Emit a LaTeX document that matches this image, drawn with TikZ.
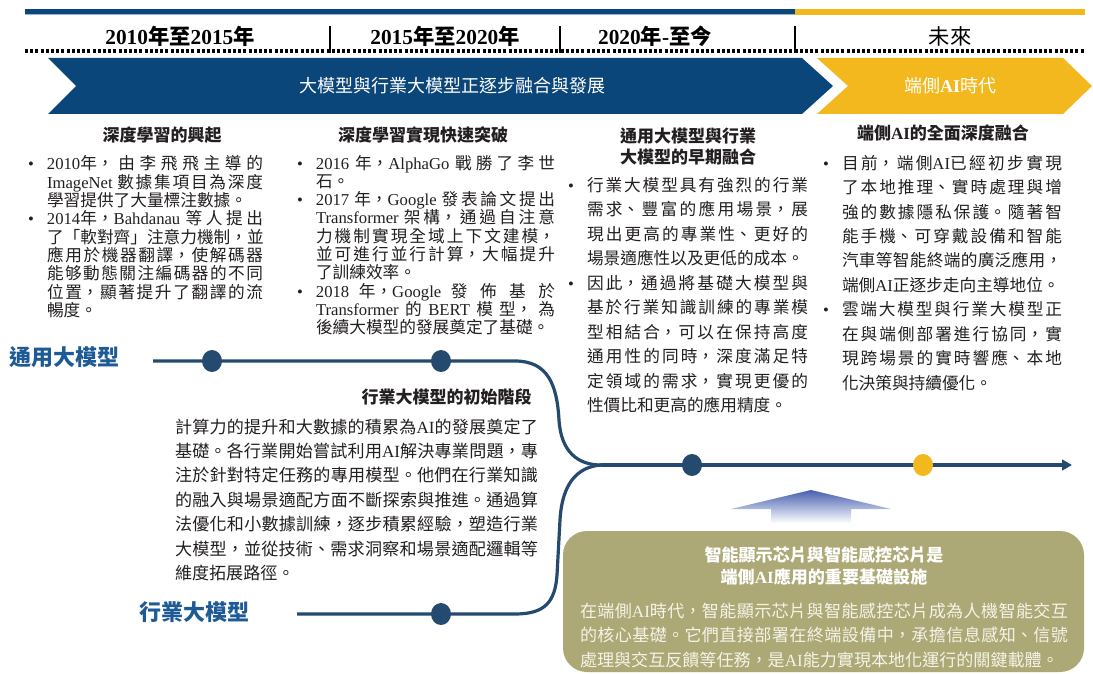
\documentclass[tikz,border=0pt]{standalone}
\usepackage{fontspec}
\setmainfont{Noto Sans CJK TC}
\newfontfamily\en{Liberation Serif}
\usetikzlibrary{shapes.geometric,arrows.meta}
\XeTeXlinebreaklocale "zh"
\XeTeXlinebreakskip=0pt plus 3pt
\XeTeXlinebreakpenalty=10000
\definecolor{navy}{RGB}{10,70,122}
\definecolor{ltblue}{RGB}{150,180,212}
\definecolor{gold}{RGB}{242,184,30}
\definecolor{lnavy}{RGB}{36,74,112}
\definecolor{lblue}{RGB}{30,90,150}
\definecolor{olive}{RGB}{173,169,118}
\definecolor{txt}{RGB}{35,31,32}
\definecolor{arrowblue}{RGB}{70,95,175}
\definecolor{boxtxt}{RGB}{244,243,232}
\newcommand\enw[1]{{\en #1}}
\newcommand\bfirst{\hangindent=14.25pt\hangafter=1\makebox[14.25pt][l]{\en\textbullet}}
\newcommand\bitem{\par\noindent\bfirst}
\tikzset{
  yearlbl/.style={inner sep=0pt, text=black, font=\fontsize{16}{19}\selectfont\bfseries},
  bannertxt/.style={inner sep=0pt, text=white, font=\fontsize{13.5}{16}\selectfont},
  colhead/.style={inner sep=0pt, text=txt, align=center, font=\fontsize{12.75}{15.75}\selectfont\bfseries},
  colbody/.style={inner sep=0pt, outer sep=0pt, anchor=base west, align=justify, text=txt, font=\fontsize{12.5}{13.725}\selectfont},
  widebody/.style={colbody, font=\fontsize{12.5}{18.375}\selectfont},
  navyline/.style={draw=lnavy, line width=2.4pt},
  dotnode/.style={ellipse, fill=lnavy, minimum width=15pt, minimum height=16.5pt, inner sep=0pt},
  sidelbl/.style={inner sep=0pt, text=lblue, font=\fontsize{16.5}{20}\selectfont\bfseries},
}
\begin{document}
\begin{tikzpicture}[x=0.75pt,y=-0.75pt]
\useasboundingbox (0,0) rectangle (1093,674);
\fill[white] (0,0) rectangle (1093,674);
% top bar
\fill[navy] (25,9) rectangle (795,14);
\fill[ltblue] (25,14) rectangle (795,15.5);
\fill[gold] (795,9) rectangle (1085,15);
% dotted rule and separators
\draw[line width=2.3pt, dash pattern=on 2.3pt off 1.6pt] (25,51) -- (1085,51);
\foreach \sx in {330,560,795} \draw[line width=1.8pt] (\sx,26) -- (\sx,53);
% year labels
\node[yearlbl] (y1) at (180,36) {\enw{2010}年至\enw{2015}年};
\node[yearlbl] (y2) at (445,36) {\enw{2015}年至\enw{2020}年};
\node[yearlbl] (y3) at (655,36) {\enw{2020}年\enw{-}至今};
\node[yearlbl, font=\fontsize{16}{19}\selectfont] (y4) at (950,36) {未來};
% banner
\fill[navy] (48,58) -- (802,58) -- (833,86) -- (802,114) -- (48,114) -- (76,86) -- cycle;
\fill[gold] (817,58) -- (1063,58) -- (1092,86) -- (1063,114) -- (817,114) -- (848,86) -- cycle;
\node[bannertxt] (b1) at (452,86) {大模型與行業大模型正逐步融合與發展};
\node[bannertxt] (b2) at (950,86) {端側\enw{\bfseries AI}時代};
% column headings
\node[colhead] (h1) at (162,135) {深度學習的興起};
\node[colhead] (h2) at (423,135) {深度學習實現快速突破};
\node[colhead] (h3) at (688,147) {通用大模型與行業\\大模型的早期融合};
\node[colhead] (h4) at (943,133) {端側\enw{AI}的全面深度融合};
% column bodies
\node[colbody, text width=176.25pt] (c1) at (28,170) {%
\bfirst \enw{2010}年，由李飛飛主導的\linebreak \enw{ImageNet}~數據集項目為深度\linebreak 學習提供了大量標注數據。%
\bitem \enw{2014}年，\enw{Bahdanau}~等人提出\linebreak 了「軟對齊」注意力機制，並\linebreak 應用於機器翻譯，使解碼器\linebreak 能够動態關注編碼器的不同\linebreak 位置，顯著提升了翻譯的流\linebreak 暢度。\par};
\node[colbody, text width=193.5pt] (c2) at (297,169) {%
\bfirst \enw{2016}~年，\enw{AlphaGo}~戰勝了李世\linebreak 石。%
\bitem \enw{2017}~年，\enw{Google}~發表論文提出\linebreak \enw{Transformer}~架構，通過自注意\linebreak 力機制實現全域上下文建模，\linebreak 並可進行並行計算，大幅提升\linebreak 了訓練效率。%
\bitem \enw{2018}~年，\enw{Google}~發佈基於\linebreak \enw{Transformer}~的~\enw{BERT}~模型，為\linebreak 後續大模型的發展奠定了基礎。\par};
\node[widebody, text width=180pt] (c3) at (568,191) {%
\bfirst 行業大模型具有強烈的行業\linebreak 需求、豐富的應用場景，展\linebreak 現出更高的專業性、更好的\linebreak 場景適應性以及更低的成本。%
\bitem 因此，通過將基礎大模型與\linebreak 基於行業知識訓練的專業模\linebreak 型相結合，可以在保持高度\linebreak 通用性的同時，深度滿足特\linebreak 定領域的需求，實現更優的\linebreak 性價比和更高的應用精度。\par};
\node[widebody, text width=179.25pt] (c4) at (823,169) {%
\bfirst 目前，端側\enw{AI}已經初步實現\linebreak 了本地推理、實時處理與增\linebreak 強的數據隱私保護。隨著智\linebreak 能手機、可穿戴設備和智能\linebreak 汽車等智能終端的廣泛應用，\linebreak 端側\enw{AI}正逐步走向主導地位。%
\bitem 雲端大模型與行業大模型正\linebreak 在與端側部署進行協同，實\linebreak 現跨場景的實時響應、本地\linebreak 化決策與持續優化。\par};
% timeline lines
\coordinate (g0) at (153,361);
\coordinate (g1) at (515,361);
\coordinate (cusp) at (601,465);
\coordinate (tip) at (1072,465);
\coordinate (i0) at (297,614);
\coordinate (i1) at (515,614);
\draw[navyline] (g0) -- (g1) .. controls (548,361) and (557,385) .. (559,420) .. controls (561,452) and (578,465) .. (cusp);
\draw[navyline] (cusp) .. controls (576,467) and (562,485) .. (560,520) -- (557,575) .. controls (555,602) and (545,614) .. (i1) -- (i0);
\draw[navyline, -{Triangle[length=7.5pt,width=8pt]}] (cusp) -- (tip);
\node[dotnode] (d1) at (212,361) {};
\node[dotnode] (d2) at (441,361) {};
\node[dotnode] (d3) at (441,614) {};
\node[dotnode] (d4) at (692,465) {};
\node[dotnode, fill=gold] (d5) at (923,465) {};
\node[sidelbl] (lg) at (65,357) {通用大模型};
\node[sidelbl] (li) at (194,612) {行業大模型};
% industry model initial stage
\node[colhead, anchor=base east] (h5) at (532,403) {行業大模型的初始階段};
\node[colbody, text width=272.25pt, font=\fontsize{12.8}{18.3}\selectfont] (p5) at (175,433) {%
計算力的提升和大數據的積累為\enw{AI}的發展奠定了\linebreak 基礎。各行業開始嘗試利用\enw{AI}解決專業問題，專\linebreak 注於針對特定任務的專用模型。他們在行業知識\linebreak 的融入與場景適配方面不斷探索與推進。通過算\linebreak 法優化和小數據訓練，逐步積累經驗，塑造行業\linebreak 大模型，並從技術、需求洞察和場景適配邏輯等\linebreak 維度拓展路徑。\par};
% gradient arrow
\shade[top color=arrowblue, bottom color=white] (731,509) -- (811,490) -- (891,509) -- (851,509) -- (851,523) -- (771,523) -- (771,509) -- cycle;
% box
\fill[olive, rounded corners=18pt] (563,531) rectangle (1084,672);
\node[colhead, text=white, font=\fontsize{12.8}{16.5}\selectfont\bfseries] (bt) at (824,566) {智能顯示芯片與智能感控芯片是\\端側\enw{AI}應用的重要基礎設施};
\node[colbody, text=boxtxt, text width=366pt, font=\fontsize{12.8}{18.4}\selectfont] (bb) at (580,617) {%
在端側\enw{AI}時代，智能顯示芯片與智能感控芯片成為人機智能交互\linebreak 的核心基礎。它們直接部署在終端設備中，承擔信息感知、信號\linebreak 處理與交互反饋等任務，是\enw{AI}能力實現本地化運行的關鍵載體。\par};
\end{tikzpicture}
\end{document}
